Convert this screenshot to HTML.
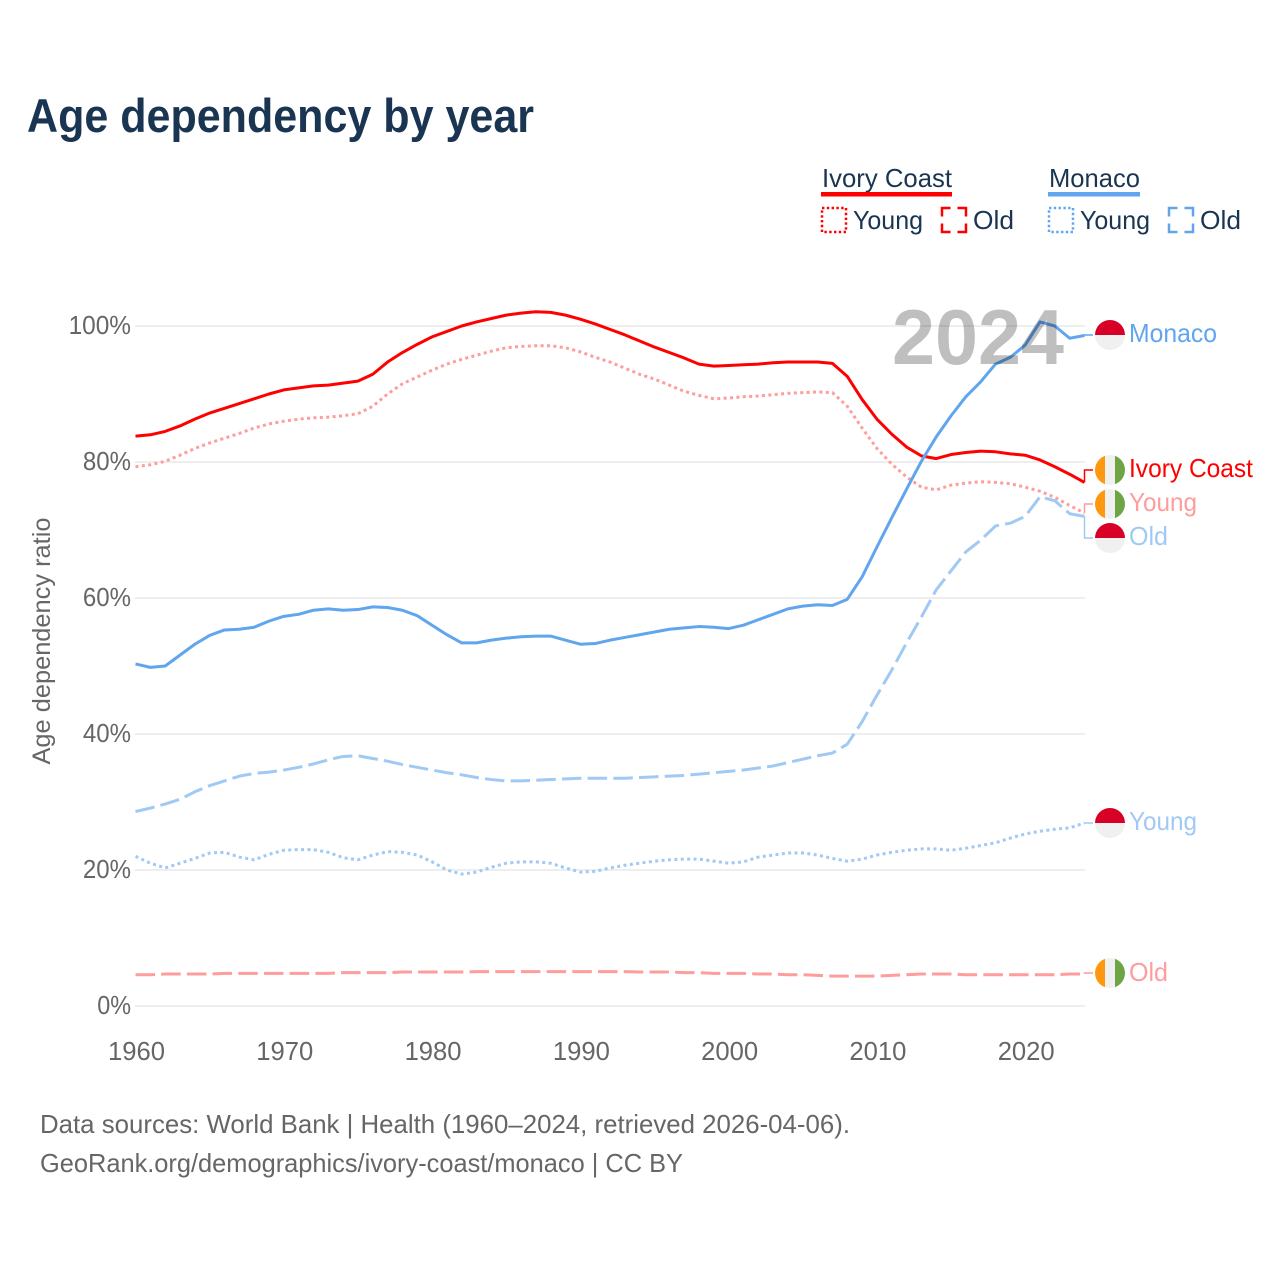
<!DOCTYPE html>
<html lang="en">
<head>
<meta charset="utf-8">
<title>Age dependency by year</title>
<style>
html,body{margin:0;padding:0;background:#fff;}
svg{display:block;}
text{font-family:"Liberation Sans",sans-serif;}
</style>
</head>
<body>
<svg id="chart" xmlns="http://www.w3.org/2000/svg" width="1280" height="1280" viewBox="0 0 1280 1280">
  <defs>
    <clipPath id="flag-clip"><circle cx="0" cy="0" r="15"/></clipPath>
    <g id="flag-mc">
      <g clip-path="url(#flag-clip)">
        <rect x="-15" y="-15" width="30" height="15" fill="#d80027"/>
        <rect x="-15" y="0" width="30" height="15" fill="#f0f0f0"/>
      </g>
    </g>
    <g id="flag-ci">
      <g clip-path="url(#flag-clip)">
        <rect x="-15" y="-15" width="10" height="30" fill="#ff9811"/>
        <rect x="-5" y="-15" width="10" height="30" fill="#f0f0f0"/>
        <rect x="5" y="-15" width="10" height="30" fill="#6da544"/>
      </g>
    </g>
  </defs>

  <text x="27" y="132" font-size="47" font-weight="700" fill="#1a3552" textLength="507" lengthAdjust="spacingAndGlyphs">Age dependency by year</text>

  <g>
    <text x="822" y="187" font-size="26" fill="#1a3552" textLength="130" lengthAdjust="spacingAndGlyphs">Ivory Coast</text>
    <rect x="821" y="192" width="131" height="4.5" fill="#ff0000"/>
    <rect x="822" y="208" width="24" height="24" fill="none" stroke="#ff0000" stroke-width="2.5" stroke-dasharray="2.4 2.4"/>
    <text x="853" y="229" font-size="26" fill="#1a3552" textLength="70" lengthAdjust="spacingAndGlyphs">Young</text>
    <rect x="942" y="208" width="24" height="24" fill="none" stroke="#ff0000" stroke-width="2.5" stroke-dasharray="17 7" stroke-dashoffset="8.5"/>
    <text x="973" y="229" font-size="26" fill="#1a3552" textLength="41" lengthAdjust="spacingAndGlyphs">Old</text>

    <text x="1049" y="187" font-size="26" fill="#1a3552" textLength="91" lengthAdjust="spacingAndGlyphs">Monaco</text>
    <rect x="1048" y="192" width="92" height="4.5" fill="#60a5ee"/>
    <rect x="1049" y="208" width="24" height="24" fill="none" stroke="#60a5ee" stroke-width="2.5" stroke-dasharray="2.4 2.4"/>
    <text x="1080" y="229" font-size="26" fill="#1a3552" textLength="70" lengthAdjust="spacingAndGlyphs">Young</text>
    <rect x="1169" y="208" width="24" height="24" fill="none" stroke="#60a5ee" stroke-width="2.5" stroke-dasharray="17 7" stroke-dashoffset="8.5"/>
    <text x="1200" y="229" font-size="26" fill="#1a3552" textLength="41" lengthAdjust="spacingAndGlyphs">Old</text>
  </g>

  <g id="grid"></g>
  <g id="yticks"></g>
  <g id="xticks"></g>
  <text transform="translate(50,641) rotate(-90)" text-anchor="middle" font-size="25" fill="#666666" textLength="247" lengthAdjust="spacingAndGlyphs">Age dependency ratio</text>

  <g id="series"></g>

  <text x="892" y="364" font-size="78" font-weight="700" fill="#000000" fill-opacity="0.25" textLength="172" lengthAdjust="spacingAndGlyphs">2024</text>

  <g>
    <use href="#flag-mc" x="1110" y="335"/>
    <text x="1129" y="342" font-size="26" fill="#60a5ee" textLength="88" lengthAdjust="spacingAndGlyphs">Monaco</text>
    <use href="#flag-ci" x="1110" y="470"/>
    <text x="1129" y="477" font-size="26" fill="#ff0000" textLength="124" lengthAdjust="spacingAndGlyphs">Ivory Coast</text>
    <use href="#flag-ci" x="1110" y="504"/>
    <text x="1129" y="511" font-size="26" fill="#ff9c9c" textLength="68" lengthAdjust="spacingAndGlyphs">Young</text>
    <use href="#flag-mc" x="1110" y="538"/>
    <text x="1129" y="545" font-size="26" fill="#a0c9f4" textLength="39" lengthAdjust="spacingAndGlyphs">Old</text>
    <use href="#flag-mc" x="1110" y="823"/>
    <text x="1129" y="830" font-size="26" fill="#a0c9f4" textLength="68" lengthAdjust="spacingAndGlyphs">Young</text>
    <use href="#flag-ci" x="1110" y="973"/>
    <text x="1129" y="981" font-size="26" fill="#ff9c9c" textLength="39" lengthAdjust="spacingAndGlyphs">Old</text>
  </g>

  <text x="40" y="1133" font-size="26" fill="#666666" textLength="810" lengthAdjust="spacingAndGlyphs">Data sources: World Bank | Health (1960–2024, retrieved 2026-04-06).</text>
  <text x="40" y="1172" font-size="26" fill="#666666" textLength="643" lengthAdjust="spacingAndGlyphs">GeoRank.org/demographics/ivory-coast/monaco | CC BY</text>
</svg>

<script>
const years = [1960,1961,1962,1963,1964,1965,1966,1967,1968,1969,1970,1971,1972,1973,1974,1975,1976,1977,1978,1979,1980,1981,1982,1983,1984,1985,1986,1987,1988,1989,1990,1991,1992,1993,1994,1995,1996,1997,1998,1999,2000,2001,2002,2003,2004,2005,2006,2007,2008,2009,2010,2011,2012,2013,2014,2015,2016,2017,2018,2019,2020,2021,2022,2023,2024];
const xTickLabels = [1960,1970,1980,1990,2000,2010,2020];
const yTickLabels = [0,20,40,60,80,100];

const ivoryCoastTotal = [83.8,84.0,84.5,85.3,86.3,87.2,87.9,88.6,89.3,90.0,90.6,90.9,91.2,91.3,91.6,91.9,92.9,94.7,96.1,97.3,98.4,99.2,100.0,100.6,101.1,101.6,101.9,102.1,102.0,101.6,101.0,100.3,99.5,98.7,97.8,96.9,96.1,95.3,94.4,94.1,94.2,94.3,94.4,94.6,94.7,94.7,94.7,94.5,92.6,89.2,86.3,84.1,82.2,80.9,80.5,81.1,81.4,81.6,81.5,81.2,81.0,80.3,79.3,78.2,77.0];
const ivoryCoastYoung = [79.3,79.6,80.1,81.0,82.0,82.8,83.5,84.2,85.0,85.6,86.0,86.3,86.5,86.6,86.8,87.1,88.2,90.0,91.5,92.5,93.5,94.4,95.1,95.7,96.3,96.8,97.0,97.1,97.1,96.8,96.2,95.4,94.7,93.8,92.9,92.2,91.3,90.4,89.8,89.3,89.4,89.6,89.7,89.9,90.1,90.2,90.3,90.2,88.2,85.0,82.0,79.7,77.8,76.3,75.9,76.6,76.9,77.1,77.0,76.8,76.3,75.7,74.8,73.6,72.5];
const ivoryCoastOld = [4.6,4.6,4.7,4.7,4.7,4.7,4.8,4.8,4.8,4.8,4.8,4.8,4.8,4.8,4.9,4.9,4.9,4.9,5.0,5.0,5.0,5.0,5.0,5.05,5.05,5.05,5.05,5.05,5.05,5.05,5.05,5.05,5.05,5.05,5.0,5.0,5.0,4.9,4.9,4.8,4.8,4.8,4.7,4.7,4.6,4.6,4.5,4.4,4.4,4.4,4.4,4.5,4.6,4.7,4.7,4.7,4.6,4.6,4.6,4.6,4.6,4.6,4.6,4.7,4.7];
const monacoTotal = [50.3,49.8,50.0,51.6,53.2,54.5,55.3,55.4,55.7,56.6,57.3,57.6,58.2,58.4,58.2,58.3,58.7,58.6,58.2,57.4,56.0,54.6,53.4,53.4,53.8,54.1,54.3,54.4,54.4,53.8,53.2,53.3,53.8,54.2,54.6,55.0,55.4,55.6,55.8,55.7,55.5,56.0,56.8,57.6,58.4,58.8,59.0,58.9,59.8,63.1,67.5,71.8,76.0,80.1,83.7,86.8,89.6,91.8,94.4,95.4,97.2,100.6,100.0,98.2,98.6];
const monacoYoung = [22.0,21.0,20.3,21.0,21.7,22.5,22.6,21.9,21.5,22.3,22.9,23.0,23.0,22.6,21.8,21.5,22.2,22.7,22.6,22.2,21.2,20.0,19.4,19.7,20.4,21.0,21.2,21.2,21.0,20.3,19.7,19.8,20.3,20.7,21.0,21.3,21.5,21.6,21.6,21.3,21.0,21.2,21.9,22.2,22.5,22.5,22.2,21.7,21.3,21.6,22.2,22.6,22.9,23.1,23.1,22.9,23.2,23.6,24.0,24.7,25.3,25.7,26.0,26.2,26.9];
const monacoOld = [28.6,29.1,29.7,30.4,31.5,32.4,33.1,33.8,34.2,34.4,34.7,35.1,35.6,36.2,36.7,36.8,36.4,36.0,35.5,35.1,34.7,34.3,34.0,33.6,33.3,33.1,33.1,33.2,33.3,33.4,33.5,33.5,33.5,33.5,33.6,33.7,33.8,33.9,34.1,34.3,34.5,34.7,35.0,35.3,35.8,36.3,36.8,37.2,38.5,41.8,45.7,49.4,53.4,57.2,61.2,64.0,66.8,68.5,70.6,71.0,72.0,74.9,74.3,72.4,72.0];

const NS = 'http://www.w3.org/2000/svg';
const xScale = function (year) { return 135.5 + (year - 1960) * (949 / 64); };
const yScale = function (value) { return 1006 - value * 6.8; };

const gridGroup = document.getElementById('grid');
const yTickGroup = document.getElementById('yticks');
const xTickGroup = document.getElementById('xticks');
const seriesGroup = document.getElementById('series');

yTickLabels.forEach(function (tick) {
  const line = document.createElementNS(NS, 'line');
  
  
  line.setAttribute('x1', 135);
  line.setAttribute('x2', 1085);
  line.setAttribute('y1', yScale(tick));
  line.setAttribute('y2', yScale(tick));
  line.setAttribute('stroke', '#eeeeee');
  line.setAttribute('stroke-width', 2);
  gridGroup.appendChild(line);

  const label = document.createElementNS(NS, 'text');
  const content = tick + '%';
  
  
  label.setAttribute('x', 131);
  label.setAttribute('y', yScale(tick) + 8);
  label.setAttribute('text-anchor', 'end');
  label.setAttribute('font-size', 26);
  label.setAttribute('fill', '#666666');
  label.setAttribute('textLength', String(tick).length * 14.3 + 19.5);
  label.setAttribute('lengthAdjust', 'spacingAndGlyphs');
  label.textContent = content;
  yTickGroup.appendChild(label);
});

xTickLabels.forEach(function (tick) {
  const label = document.createElementNS(NS, 'text');
  
  
  label.setAttribute('x', xScale(tick) + 1);
  label.setAttribute('y', 1060);
  label.setAttribute('text-anchor', 'middle');
  label.setAttribute('font-size', 26);
  label.setAttribute('fill', '#666666');
  label.setAttribute('textLength', 57);
  label.setAttribute('lengthAdjust', 'spacingAndGlyphs');
  label.textContent = tick;
  xTickGroup.appendChild(label);
});

function drawSeries(name, values, color, dash, labelY) {
  const d = values.map(function (value, i) {
    return (i ? 'L' : 'M') + xScale(years[i]).toFixed(2) + ' ' + yScale(value).toFixed(2);
  }).join(' ');
  const path = document.createElementNS(NS, 'path');
  
  
  path.setAttribute('d', d);
  path.setAttribute('fill', 'none');
  path.setAttribute('stroke', color);
  path.setAttribute('stroke-width', 3);
  path.setAttribute('stroke-linejoin', 'round');
  if (dash) { path.setAttribute('stroke-dasharray', dash); }
  seriesGroup.appendChild(path);

  const endX = xScale(years[years.length - 1]);
  const endY = yScale(values[values.length - 1]);
  const connector = document.createElementNS(NS, 'path');
  
  
  connector.setAttribute('d', 'M' + endX + ' ' + endY + ' V' + labelY + ' H1093');
  connector.setAttribute('fill', 'none');
  connector.setAttribute('stroke', color);
  connector.setAttribute('stroke-width', 1.5);
  seriesGroup.appendChild(connector);
}

drawSeries('line-ivory-coast-old', ivoryCoastOld, '#ff9c9c', '19.5 6.2', 973);
drawSeries('line-monaco-young', monacoYoung, '#a0c9f4', '3 3.4', 823);
drawSeries('line-monaco-old', monacoOld, '#a0c9f4', '19.5 6.2', 538);
drawSeries('line-ivory-coast-young', ivoryCoastYoung, '#ff9c9c', '3 3.4', 504);
drawSeries('line-ivory-coast-total', ivoryCoastTotal, '#ff0000', null, 470);
drawSeries('line-monaco-total', monacoTotal, '#60a5ee', null, 335);
</script>
</body>
</html>
